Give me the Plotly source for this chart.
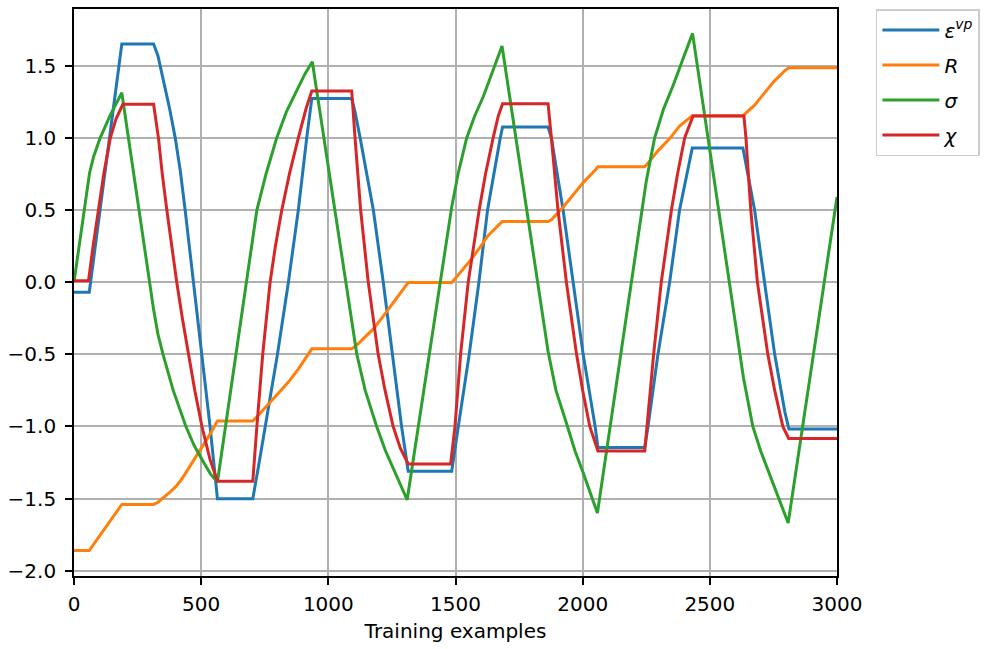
import plotly.graph_objects as go

# ---- data ----
eps_x = [0, 60, 188, 313, 330, 352, 375, 398, 418, 437, 470, 503, 535, 564,
         703, 725, 751, 800, 843, 882, 915, 935,
         1092, 1105, 1125, 1150, 1177, 1216, 1253, 1288, 1314,
         1485, 1511, 1554, 1592, 1626, 1676, 1685,
         1864, 1877, 1923, 1962, 2002, 2049, 2060,
         2244, 2257, 2296, 2342, 2381, 2415, 2431,
         2630, 2650, 2676, 2715, 2755, 2795, 2811, 3000]
eps_y = [-0.07, -0.07, 1.65, 1.65, 1.57, 1.40, 1.21, 1.0, 0.77, 0.5, 0.0, -0.5, -1.0, -1.5,
         -1.5, -1.28, -1.0, -0.5, 0.0, 0.5, 1.0, 1.272,
         1.272, 1.18, 1.0, 0.76, 0.5, 0.0, -0.5, -1.0, -1.31,
         -1.31, -1.0, -0.5, 0.0, 0.5, 1.0, 1.075,
         1.075, 1.0, 0.5, 0.0, -0.5, -1.0, -1.145,
         -1.145, -1.0, -0.5, 0.0, 0.5, 0.8, 0.93,
         0.93, 0.75, 0.5, 0.0, -0.5, -0.9, -1.018, -1.018]

R_x = eps_x
R_y = [-1.86, -1.86, -1.54, -1.54, -1.525, -1.494, -1.459, -1.42, -1.378, -1.328, -1.237, -1.145, -1.053, -0.962,
       -0.962, -0.922, -0.872, -0.782, -0.692, -0.602, -0.512, -0.462,
       -0.462, -0.446, -0.414, -0.371, -0.324, -0.235, -0.146, -0.057, -0.003,
       -0.003, 0.052, 0.141, 0.230, 0.319, 0.407, 0.42,
       0.42, 0.433, 0.519, 0.604, 0.69, 0.776, 0.80,
       0.80, 0.825, 0.910, 0.995, 1.081, 1.132, 1.154,
       1.154, 1.185, 1.227, 1.312, 1.397, 1.466, 1.486, 1.486]

sig_x = [0, 61, 77, 103, 143, 188, 313, 330, 350, 390, 440, 472, 510, 537, 564,
         703, 719, 755, 797, 835, 876, 907, 937,
         1092, 1112, 1145, 1190, 1225, 1262, 1288, 1310,
         1485, 1510, 1544, 1575, 1609, 1648, 1683,
         1864, 1895, 1936, 1970, 2002, 2030, 2058,
         2250, 2283, 2318, 2355, 2395, 2432,
         2632, 2669, 2700, 2728, 2774, 2808, 3000]
sig_y = [0.0, 0.755, 0.87, 1.0, 1.16, 1.313, -0.19, -0.36, -0.5, -0.75, -1.0, -1.13, -1.25, -1.33, -1.385,
         0.28, 0.5, 0.75, 1.0, 1.18, 1.33, 1.44, 1.528,
         -0.27, -0.5, -0.75, -1.0, -1.17, -1.32, -1.42, -1.508,
         0.52, 0.75, 1.0, 1.15, 1.285, 1.47, 1.636,
         -0.48, -0.75, -0.976, -1.17, -1.32, -1.46, -1.6,
         0.70, 1.0, 1.2, 1.36, 1.55, 1.724,
         -0.66, -1.0, -1.17, -1.3, -1.5, -1.669, 0.59]

chi_x = [0, 57, 75, 97, 117, 143, 165, 192,
         313, 332, 347, 365, 384, 404, 426, 450, 475, 503, 535, 564,
         703, 719, 742, 771, 792, 817, 847, 882, 912, 935,
         1092, 1105, 1127, 1157, 1196, 1223, 1255, 1283, 1314,
         1481, 1498, 1520, 1550, 1593, 1618, 1648, 1668, 1685,
         1864, 1877, 1903, 1936, 1976, 2000, 2028, 2060,
         2244, 2253, 2279, 2309, 2349, 2373, 2401, 2434,
         2634, 2642, 2661, 2687, 2728, 2755, 2787, 2810, 3000]
chi_y = [0.01, 0.01, 0.25, 0.5, 0.75, 1.0, 1.13, 1.233,
         1.233, 1.0, 0.75, 0.5, 0.25, 0.0, -0.25, -0.5, -0.75, -1.0, -1.23, -1.38,
         -1.38, -1.0, -0.5, 0.0, 0.25, 0.5, 0.75, 1.0, 1.2, 1.325,
         1.325, 1.0, 0.5, 0.0, -0.5, -0.75, -1.0, -1.15, -1.26,
         -1.26, -1.0, -0.5, 0.0, 0.5, 0.75, 1.0, 1.15, 1.237,
         1.237, 1.0, 0.5, 0.0, -0.5, -0.75, -1.0, -1.17,
         -1.17, -1.0, -0.5, 0.0, 0.5, 0.75, 1.0, 1.152,
         1.152, 1.0, 0.5, 0.0, -0.5, -0.75, -1.0, -1.083, -1.083]

series_names = ["<i>ε</i><sup><i>vp</i></sup>", "<i>R</i>", "<i>σ</i>", "<i>χ</i>"]
series_colors = ["#1f77b4", "#ff7f0e", "#2ca02c", "#d62728"]

x_ticks = [0, 500, 1000, 1500, 2000, 2500, 3000]
y_ticks = [-2.0, -1.5, -1.0, -0.5, 0.0, 0.5, 1.0, 1.5]

fig = go.Figure()
for i, (xs, ys) in enumerate([(eps_x, eps_y), (R_x, R_y), (sig_x, sig_y), (chi_x, chi_y)]):
    fig.add_trace(go.Scatter(x=xs, y=ys, mode="lines", name=series_names[i],
                             legendgroup=f"g{i}",
                             line=dict(color=series_colors[i], width=3)))

font = dict(family="DejaVu Sans", size=20, color="#000000")
fig.update_layout(
    width=988, height=649,
    margin=dict(l=74, r=151, t=9, b=73, autoexpand=False),
    paper_bgcolor="white", plot_bgcolor="white",
    font=font,
    showlegend=True,
    legend=dict(x=1.051, y=1.0, xanchor="left", yanchor="top",
                bordercolor="#cccccc", borderwidth=1.5, bgcolor="white",
                tracegroupgap=6, itemwidth=57,
                font=dict(family="DejaVu Sans", size=20, color="#000000")),
    xaxis=dict(range=[0, 3000], tickvals=x_ticks, ticktext=[str(v) for v in x_ticks],
               showgrid=True, gridcolor="#b0b0b0", gridwidth=1.6,
               showline=True, linecolor="black", linewidth=1.6, mirror=True,
               ticks="outside", ticklen=7, tickwidth=1.6, tickcolor="black", zeroline=False,
               ticklabelstandoff=2, automargin=False,
               title=dict(text="Training examples", font=font, standoff=9)),
    yaxis=dict(range=[-2.036, 1.893], tickvals=y_ticks,
               ticktext=[("−" if v < 0 else "") + f"{abs(v):.1f}" for v in y_ticks],
               showgrid=True, gridcolor="#b0b0b0", gridwidth=1.6,
               showline=True, linecolor="black", linewidth=1.6, mirror=True,
               ticks="outside", ticklen=7, tickwidth=1.6, tickcolor="black", zeroline=False,
               ticklabelstandoff=5, automargin=False),
)

fig.write_html("out.html", config={"displayModeBar": False},
               post_script="document.body.style.margin='0';document.body.style.padding='0';")
